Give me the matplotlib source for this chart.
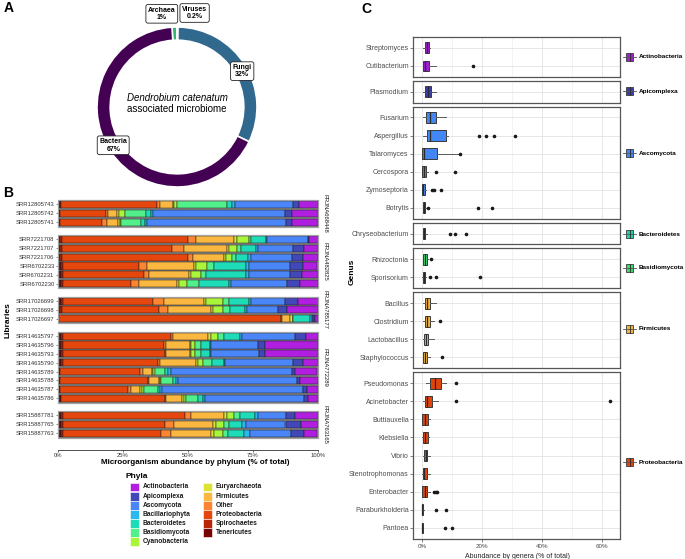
import numpy as np
import matplotlib.pyplot as plt
from matplotlib.patches import Rectangle

plt.rcParams['font.family'] = ['Liberation Sans', 'DejaVu Sans']

W, H = 685, 559
fig = plt.figure(figsize=(W / 100, H / 100), dpi=100)


def px_axes(x0, y0, x1, y1):
    # axes placed in pixel coords (origin top-left)
    return fig.add_axes([x0 / W, 1 - y1 / H, (x1 - x0) / W, (y1 - y0) / H])


# ---------------- data: panel A
kingdoms = ["Archaea", "Viruses", "Fungi", "Bacteria"]
kingdom_pct = [1, 0.2, 32, 67]
kingdom_labels = ["Archaea\n1%", "Viruses\n0.2%", "Fungi\n32%", "Bacteria\n67%"]
kingdom_colors = ["#35b779", "#fde725", "#31688e", "#440154"]

# ---------------- data: panel B (% abundance by phylum)
phyla = ["Actinobacteria", "Apicomplexa", "Ascomycota", "Bacillariophyta",
         "Bacteroidetes", "Basidiomycota", "Cyanobacteria", "Euryarchaeota",
         "Firmicutes", "Other", "Proteobacteria", "Spirochaetes", "Tenericutes"]
phyla_colors = ["#b01fe0", "#4248b8", "#4a86f8", "#2ab8ee", "#1fdcb8", "#52f08a",
                "#a8f53a", "#dde235", "#fbb840", "#fb8530", "#e4460e", "#b82509",
                "#7a0403"]
stack_order = phyla[::-1]   # rows below are in this order (Tenericutes ... Actinobacteria)

prj1_id = "PRJNA668448"
prj1_libs = ["SRR12805743", "SRR12805742", "SRR12805741"]
prj1_abund = [
    [0.8, 0.2, 37.1, 1.2, 4.8, 0.6, 1.0, 19.2, 2.1, 1.1, 22.3, 2.2, 7.4],
    [0.8, 0.0, 17.5, 0.9, 3.3, 0.9, 2.2, 8.4, 1.8, 0.8, 50.7, 2.6, 10.2],
    [0.8, 0.0, 16.3, 1.7, 4.1, 0.9, 0.6, 7.4, 1.5, 1.0, 53.4, 2.2, 10.2],
]
prj2_id = "PRJNA482825"
prj2_libs = ["SRR7221708", "SRR7221707", "SRR7221706", "SRR6702233", "SRR6702231", "SRR6702230"]
prj2_abund = [
    [0.8, 0.8, 48.3, 3.3, 14.3, 1.3, 4.5, 0.9, 5.7, 0.4, 16.0, 0.3, 3.6],
    [0.8, 0.8, 42.3, 4.5, 16.6, 0.6, 3.4, 1.3, 5.9, 0.9, 13.4, 4.1, 5.5],
    [0.8, 0.8, 48.3, 2.0, 12.0, 0.6, 2.3, 1.5, 4.9, 0.9, 16.0, 4.2, 5.7],
    [1.0, 1.0, 29.2, 2.9, 18.1, 1.0, 4.1, 2.6, 12.5, 1.0, 15.8, 5.1, 5.5],
    [1.0, 0.8, 31.4, 1.8, 15.2, 0.9, 3.8, 2.0, 15.6, 0.8, 16.1, 4.6, 6.0],
    [1.0, 1.0, 26.2, 3.1, 14.4, 0.9, 3.2, 4.3, 11.7, 0.8, 21.5, 4.9, 7.0],
]
prj3_id = "PRJNA785177"
prj3_libs = ["SRR17026699", "SRR17026698", "SRR17026697"]
prj3_abund = [
    [1.0, 1.0, 34.5, 4.1, 15.6, 0.8, 6.4, 2.2, 7.7, 0.9, 13.2, 4.9, 7.9],
    [0.8, 0.8, 37.2, 3.4, 16.6, 1.0, 3.6, 2.6, 6.0, 0.6, 12.1, 3.4, 11.9],
    [0.4, 0.0, 85.2, 0.6, 3.2, 0.8, 0.0, 0.2, 6.6, 0.6, 0.6, 0.6, 1.3],
]
prj4_id = "PRJNA772289"
prj4_libs = ["SRR14635797", "SRR14635796", "SRR14635793", "SRR14635790",
             "SRR14635789", "SRR14635788", "SRR14635787", "SRR14635786"]
prj4_abund = [
    [1.0, 1.0, 41.4, 1.0, 13.4, 0.9, 2.9, 2.2, 6.1, 1.0, 20.1, 4.2, 4.7],
    [1.0, 0.8, 39.1, 0.6, 9.1, 0.5, 1.7, 2.3, 3.2, 0.5, 18.3, 2.6, 20.4],
    [1.0, 0.8, 39.2, 0.6, 9.0, 0.5, 1.7, 2.3, 3.3, 0.5, 18.3, 2.5, 20.3],
    [1.0, 0.8, 36.5, 1.0, 13.8, 0.9, 1.7, 3.4, 4.7, 0.6, 25.9, 4.1, 5.5],
    [0.6, 0.0, 31.0, 0.9, 3.6, 0.6, 0.6, 3.8, 1.3, 0.9, 46.7, 1.1, 8.7],
    [0.6, 0.0, 34.0, 0.5, 3.6, 0.6, 0.4, 4.5, 1.3, 0.6, 45.8, 1.3, 6.8],
    [0.8, 0.0, 26.2, 0.9, 3.6, 0.9, 0.6, 5.4, 1.0, 0.6, 54.3, 1.3, 4.5],
    [1.0, 0.0, 40.0, 0.6, 6.0, 0.9, 0.6, 4.9, 1.9, 0.5, 38.1, 1.7, 3.8],
]
prj5_id = "PRJNA763165"
prj5_libs = ["SRR15887781", "SRR15887765", "SRR15887763"]
prj5_abund = [
    [1.0, 0.8, 47.1, 2.2, 12.8, 1.0, 2.8, 2.3, 5.7, 1.3, 10.6, 3.7, 8.7],
    [1.0, 1.0, 39.0, 3.8, 14.9, 1.0, 3.1, 2.0, 5.1, 1.3, 15.3, 6.0, 6.4],
    [1.0, 1.0, 37.5, 3.8, 15.7, 1.0, 3.4, 1.9, 6.4, 2.2, 15.7, 5.1, 5.1],
]

# ---------------- data: panel C (box stats: low whisker, Q1, median, Q3, high whisker)
actino_genera = ["Streptomyces", "Cutibacterium"]
actino_stats = [[0.3, 1.0, 1.6, 2.3, 2.8], [0.2, 0.2, 1.0, 2.4, 4.8]]
actino_out = [[], [17.0]]

apico_genera = ["Plasmodium"]
apico_stats = [[0.3, 0.9, 2.0, 3.1, 4.6]]
apico_out = [[]]

asco_genera = ["Fusarium", "Aspergillus", "Talaromyces", "Cercospora", "Zymoseptoria", "Botrytis"]
asco_stats = [[0.3, 1.3, 2.8, 4.6, 7.9], [0.3, 1.7, 2.8, 8.1, 8.7], [0.0, 0.0, 0.6, 5.0, 12.3],
              [0.1, 0.1, 0.6, 1.2, 2.0], [0.0, 0.0, 0.3, 1.0, 1.2], [0.2, 0.2, 0.6, 1.0, 1.2]]
asco_out = [[], [18.9, 21.4, 24.0, 30.9], [12.6], [4.8, 10.9], [3.4, 3.9, 6.2], [2.0, 18.7, 23.4]]

bactero_genera = ["Chryseobacterium"]
bactero_stats = [[0.2, 0.2, 0.6, 1.1, 1.6]]
bactero_out = [[9.2, 10.9, 14.6]]

basidio_genera = ["Rhizoctonia", "Sporisorium"]
basidio_stats = [[0.3, 0.4, 1.0, 1.7, 1.9], [0.1, 0.2, 0.6, 1.0, 1.3]]
basidio_out = [[3.1], [2.6, 4.8, 19.2]]

firm_genera = ["Bacillus", "Clostridium", "Lactobacillus", "Staphylococcus"]
firm_stats = [[0.3, 1.0, 1.8, 2.8, 4.6], [0.3, 0.9, 1.7, 2.6, 3.9],
              [0.2, 0.6, 1.2, 2.1, 3.9], [0.2, 0.3, 1.0, 1.8, 2.8]]
firm_out = [[], [6.1], [], [6.7]]

proteo_genera = ["Pseudomonas", "Acinetobacter", "Buttiauxella", "Klebsiella", "Vibrio",
                 "Stenotrophomonas", "Enterobacter", "Paraburkholderia", "Pantoea"]
proteo_stats = [[1.2, 2.6, 4.2, 6.2, 7.9], [0.3, 1.1, 1.8, 3.4, 5.3], [0.0, 0.1, 1.0, 2.0, 2.6],
                [0.0, 0.3, 1.1, 2.0, 2.3], [0.3, 0.6, 1.2, 1.8, 2.6], [0.1, 0.2, 0.8, 1.8, 2.8],
                [0.0, 0.1, 0.9, 1.8, 2.8], [0.0, 0.0, 0.1, 0.5, 0.6], [0.0, 0.0, 0.1, 0.4, 0.5]]
proteo_out = [[11.2], [11.4, 62.8], [], [], [], [], [4.1, 4.7, 5.1], [4.8, 8.1], [7.7, 10.1]]

c_phyla = ["Actinobacteria", "Apicomplexa", "Ascomycota", "Bacteroidetes",
           "Basidiomycota", "Firmicutes", "Proteobacteria"]
c_colors = ["#a21fd4", "#3b3ea8", "#4287f5", "#1fcfa8", "#3fd870", "#f4b33c", "#e0460c"]
c_key_y = [57, 91, 153, 234, 268, 329, 462]

# overlay axes in pixel coords for labels / manual legends
ov = fig.add_axes([0, 0, 1, 1])
ov.set_xlim(0, W)
ov.set_ylim(H, 0)
ov.axis('off')

# ================= Panel A: donut
cx, cy, R = 177, 107, 80
axA = px_axes(cx - 90, cy - 90, cx + 90, cy + 90)
wedges, _ = axA.pie(kingdom_pct, colors=kingdom_colors, startangle=93.6, counterclock=False,
                    radius=1, wedgeprops=dict(width=0.165, edgecolor='white', linewidth=1.2))
axA.set_xlim(-1.125, 1.125)
axA.set_ylim(-1.125, 1.125)
axA.set_aspect('equal')
axA.axis('off')
lab_pos = {"Archaea": (-0.19, 1.165), "Viruses": (0.22, 1.175)}
for w, k, lab in zip(wedges, kingdoms, kingdom_labels):
    if k in lab_pos:
        x, y = lab_pos[k]
    else:
        ang = np.deg2rad((w.theta1 + w.theta2) / 2 - 3)
        x, y = 0.93 * np.cos(ang), 0.93 * np.sin(ang)
    axA.text(x, y, lab, ha='center', va='center', fontsize=5, fontweight='bold',
             linespacing=1.1, clip_on=False,
             bbox=dict(boxstyle='round,pad=0.3,rounding_size=0.3', fc='white', ec='#222222', lw=0.6))
axA.text(0, 0.11, "Dendrobium catenatum", ha='center', va='center', fontsize=7, style='italic')
axA.text(0, -0.02, "associated microbiome", ha='center', va='center', fontsize=7)

# ================= Panel B: stacked bars by library
pcol = dict(zip(phyla, phyla_colors))
b_groups = [(prj1_id, prj1_libs, prj1_abund), (prj2_id, prj2_libs, prj2_abund),
            (prj3_id, prj3_libs, prj3_abund), (prj4_id, prj4_libs, prj4_abund),
            (prj5_id, prj5_libs, prj5_abund)]
pitch, gap, ytop = 8.85, 8.5, 200
y = ytop
for k, (pid, libs, rows) in enumerate(b_groups):
    n = len(libs)
    ax = px_axes(58, y, 318, y + n * pitch)
    vals = np.array(rows)
    left = np.zeros(n)
    for j, ph in enumerate(stack_order):
        ax.barh(np.arange(n), vals[:, j], left=left, height=0.8, color=pcol[ph],
                edgecolor='#1a1a1a', linewidth=0.35)
        left += vals[:, j]
    ax.set_xlim(0, 100)
    ax.set_ylim(n - 0.5, -0.5)
    ax.set_facecolor('#8c8c8c')
    ax.set_yticks(range(n))
    ax.set_yticklabels(libs, fontsize=4.2, color='#333333')
    ax.tick_params(axis='y', length=1.5, width=0.4, pad=1, color='#333333')
    for s in ax.spines.values():
        s.set_visible(False)
    ax.add_patch(Rectangle((0, 0), 1, 1, transform=ax.transAxes, fill=False,
                           ec='#a0a0a0', lw=0.9, clip_on=False, zorder=5))
    if k == len(b_groups) - 1:
        ax.spines['bottom'].set_visible(True)
        ax.spines['bottom'].set_position(('outward', 9))
        ax.spines['bottom'].set_color('#333333')
        ax.spines['bottom'].set_linewidth(0.6)
        ax.set_xticks([0, 25, 50, 75, 100])
        ax.set_xticklabels(["0%", "25%", "50%", "75%", "100%"], fontsize=4.2, color='#333333')
        ax.tick_params(axis='x', length=1.5, width=0.5, pad=0.8, color='#333333')
    else:
        ax.set_xticks([])
    ov.text(325, y + n * pitch / 2, pid, rotation=270, ha='center', va='center',
            fontsize=4.2, color='#1a1a1a')
    y += n * pitch + gap

ov.text(195, 463, "Microorganism abundance by phylum (% of total)", ha='center', va='center',
        fontsize=5.8, fontweight='bold')
ov.text(8, 320, "Libraries", rotation=90, ha='center', va='center', fontsize=6, fontweight='bold')

# legend "Phyla"
ov.text(126, 477, "Phyla", ha='left', va='center', fontsize=6, fontweight='bold')
for i, (ph, c) in enumerate(zip(phyla, phyla_colors)):
    col, row = divmod(i, 7)
    kx = 130 + col * 73
    ky = 487 + row * 9.1
    ov.add_patch(Rectangle((kx, ky - 4.4), 8.8, 8.8, fc=c, ec='white', lw=0.4))
    ov.text(kx + 13, ky, ph, ha='left', va='center', fontsize=4.8, fontweight='bold', color='#1a1a1a')

# ================= Panel C: box plots by genus
c_groups = [(actino_genera, actino_stats, actino_out), (apico_genera, apico_stats, apico_out),
            (asco_genera, asco_stats, asco_out), (bactero_genera, bactero_stats, bactero_out),
            (basidio_genera, basidio_stats, basidio_out), (firm_genera, firm_stats, firm_out),
            (proteo_genera, proteo_stats, proteo_out)]
c_pitch, c_gap, c_top = 18.1, 4, 37
y = c_top
for i, (genera, stats, outs) in enumerate(c_groups):
    n = len(genera)
    h = (n + 0.2) * c_pitch
    ax = px_axes(413, y, 620, y + h)
    bst = [dict(whislo=s[0], q1=s[1], med=s[2], q3=s[3], whishi=s[4], fliers=o, label=g)
           for g, s, o in zip(genera, stats, outs)]
    ax.bxp(bst, positions=list(range(n)), widths=0.6, orientation='horizontal',
           patch_artist=True, showcaps=False,
           boxprops=dict(facecolor=c_colors[i], edgecolor='#3a3a3a', linewidth=0.7),
           medianprops=dict(color='#2a2a2a', linewidth=0.9),
           whiskerprops=dict(color='#5a5a5a', linewidth=0.7),
           flierprops=dict(marker='o', markersize=1.6, markerfacecolor='#1a1a1a',
                           markeredgecolor='#1a1a1a'))
    ax.set_xlim(-3, 66)
    ax.set_ylim(n - 0.4, -0.6)
    ax.set_xticks([0, 20, 40, 60])
    ax.set_xticks([10, 30, 50], minor=True)
    ax.set_axisbelow(True)
    ax.grid(True, which='major', color='#e3e3e3', lw=0.6)
    ax.grid(True, which='minor', axis='x', color='#efefef', lw=0.5)
    ax.tick_params(axis='y', labelsize=5, labelcolor='#4d4d4d', length=2, width=0.5,
                   color='#4d4d4d', pad=1)
    ax.tick_params(which='minor', length=0)
    for s in ax.spines.values():
        s.set_color('#555555')
        s.set_linewidth(0.9)
    if i == len(c_groups) - 1:
        ax.set_xticklabels(["0%", "20%", "40%", "60%"])
        ax.tick_params(axis='x', labelsize=4.5, labelcolor='#4d4d4d', length=2, width=0.5,
                       color='#4d4d4d', pad=1.5)
    else:
        ax.tick_params(axis='x', labelbottom=False, length=0)
    # side key
    ky = c_key_y[i]
    ov.plot([623, 636], [ky, ky], color='#555555', lw=0.6)
    ov.add_patch(Rectangle((626.5, ky - 4), 7, 8, fc=c_colors[i], ec='#3a3a3a', lw=0.6))
    ov.plot([630, 630], [ky - 4, ky + 4], color='#2a2a2a', lw=0.6)
    ov.text(639, ky, c_phyla[i], ha='left', va='center', fontsize=4.6, fontweight='bold')
    y += h + c_gap

ov.text(518, 556, "Abundance by genera (% of total)", ha='center', va='center', fontsize=5,
        color='#222222')
ov.text(352, 272, "Genus", rotation=90, ha='center', va='center', fontsize=6, fontweight='bold')

# panel letters
ov.text(4, 8, "A", ha='left', va='center', fontsize=10, fontweight='bold')
ov.text(3, 193, "B", ha='left', va='center', fontsize=10, fontweight='bold')
ov.text(361, 9, "C", ha='left', va='center', fontsize=10, fontweight='bold')

fig.savefig("out.png", dpi=100)
